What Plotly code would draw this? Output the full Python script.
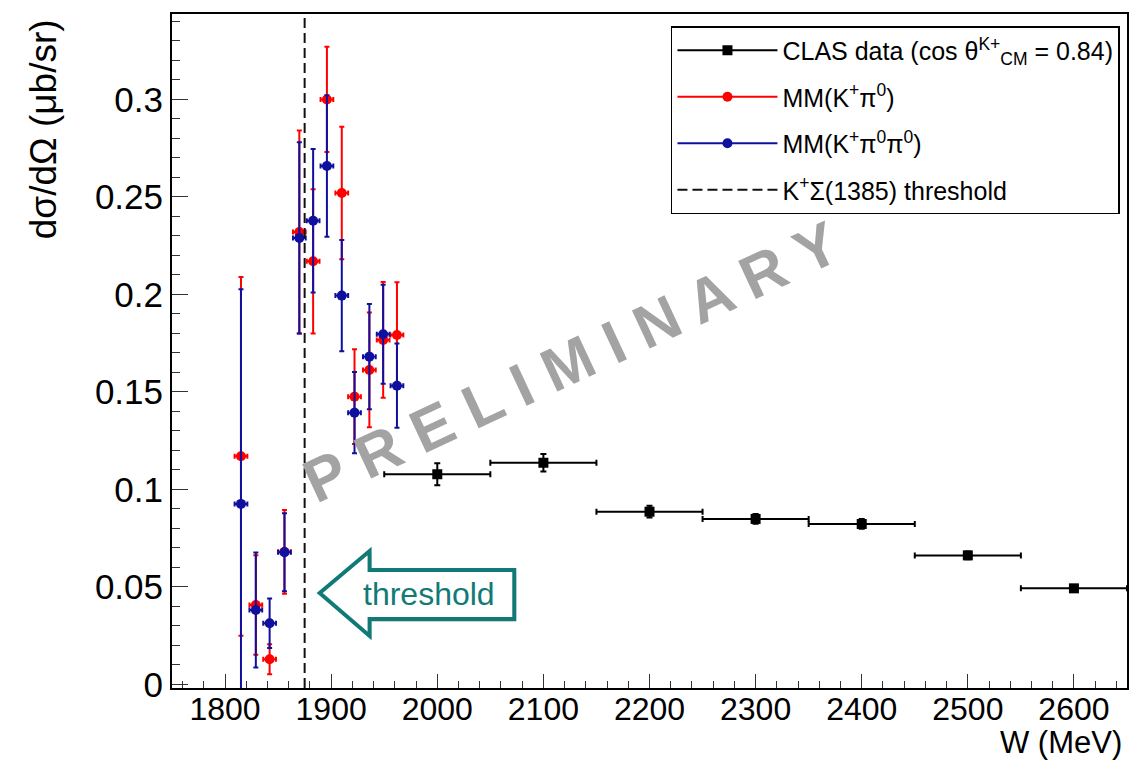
import plotly.graph_objects as go

# ---------------- data ----------------
# CLAS data (cos theta_CM^K+ = 0.84)
clas_w = [2000, 2100, 2200, 2300, 2400, 2500, 2600]
clas_xs = [0.1078, 0.1137, 0.0886, 0.0849, 0.0823, 0.0662, 0.0493]
clas_err = [0.0056, 0.0045, 0.0030, 0.0025, 0.0025, 0.0020, 0.0015]
clas_werr = [50, 50, 50, 50, 50, 50, 50]

# MM analyses (shared W bins)
mm_w = [1815, 1829, 1842, 1856, 1870, 1883, 1896, 1910, 1922, 1936, 1949, 1962]
mm_werr = [6] * 12

# MM(K+ pi0)
red_xs = [0.117, 0.0408, 0.0129, 0.068, 0.232, 0.217, 0.300, 0.252, 0.1476, 0.1613, 0.1767, 0.1792]
red_err = [0.092, 0.0255, 0.0077, 0.0215, 0.052, 0.037, 0.027, 0.034, 0.0243, 0.0294, 0.0297, 0.027]

# MM(K+ pi0 pi0)
blue_xs = [0.0926, 0.0382, 0.0314, 0.0678, 0.229, 0.2378, 0.2659, 0.1994, 0.1394, 0.1681, 0.1796, 0.1532]
blue_err = [0.110, 0.0295, 0.0127, 0.020, 0.049, 0.0368, 0.0363, 0.0285, 0.0208, 0.0270, 0.0254, 0.0216]

# K+ Sigma(1385) threshold
threshold_w = 1875

x_range = [1750, 2650]
y_range = [-0.0018, 0.3438]

# ---------------- layout geometry ----------------
W, H = 1131, 774
ML, MR, MT, MB = 172, 2, 14, 86
PW, PH = W - ML - MR, H - MT - MB


def px(x):
    return (x - ML) / PW


def py(y):
    return (H - MB - y) / PH


FONT = "Liberation Sans, Arial, Helvetica, sans-serif"
RED = "#ff0000"
BLUE = "#10109e"
TEAL = "#127a76"

fig = go.Figure()

# data traces
fig.add_trace(go.Scatter(
    x=mm_w, y=red_xs, mode="markers", showlegend=False,
    marker=dict(symbol="circle", size=10, color=RED),
    error_y=dict(type="data", array=red_err, color=RED, thickness=2, width=2.5),
    error_x=dict(type="data", array=mm_werr, color=RED, thickness=2, width=2.5),
))
fig.add_trace(go.Scatter(
    x=mm_w, y=blue_xs, mode="markers", showlegend=False,
    marker=dict(symbol="circle", size=10, color=BLUE),
    error_y=dict(type="data", array=blue_err, color=BLUE, thickness=2, width=2.5),
    error_x=dict(type="data", array=mm_werr, color=BLUE, thickness=2, width=2.5),
))
fig.add_trace(go.Scatter(
    x=clas_w, y=clas_xs, mode="markers", showlegend=False,
    marker=dict(symbol="square", size=10, color="black"),
    error_y=dict(type="data", array=clas_err, color="black", thickness=2, width=3),
    error_x=dict(type="data", array=clas_werr, color="black", thickness=2, width=3),
))

# threshold dashed line
fig.add_trace(go.Scatter(
    x=[threshold_w, threshold_w], y=y_range, mode="lines", showlegend=False,
    line=dict(color="#111111", width=2, dash="10px,5px"),
))

# legend entries
fig.add_trace(go.Scatter(
    x=[None], y=[None], mode="lines+markers", legendgroup="a",
    name="CLAS data (cos θ<sup>K+</sup><sub>CM</sub> = 0.84)",
    line=dict(color="black", width=2), marker=dict(symbol="square", size=10, color="black"),
))
fig.add_trace(go.Scatter(
    x=[None], y=[None], mode="lines+markers", legendgroup="b",
    name="MM(K<sup>+</sup>π<sup>0</sup>)",
    line=dict(color=RED, width=2), marker=dict(symbol="circle", size=10, color=RED),
))
fig.add_trace(go.Scatter(
    x=[None], y=[None], mode="lines+markers", legendgroup="c",
    name="MM(K<sup>+</sup>π<sup>0</sup>π<sup>0</sup>)",
    line=dict(color=BLUE, width=2), marker=dict(symbol="circle", size=10, color=BLUE),
))
fig.add_trace(go.Scatter(
    x=[None], y=[None], mode="lines", legendgroup="d",
    name="K<sup>+</sup>Σ(1385) threshold",
    line=dict(color="#111111", width=2, dash="10px,5px"),
))

# threshold arrow (decoration)
arrow_pts = [(320, 593), (370, 551), (370, 570), (515, 570), (515, 619), (370, 619), (370, 636)]


def path_from(pts, dx=0, dy=0):
    s = "M " + " L ".join(f"{px(x + dx):.5f},{py(y + dy):.5f}" for x, y in pts) + " Z"
    return s


shapes = [
    dict(type="path", xref="paper", yref="paper", path=path_from(arrow_pts, 2, 3),
         fillcolor="rgba(0,0,0,0.18)", line=dict(width=0), layer="above"),
    dict(type="path", xref="paper", yref="paper", path=path_from(arrow_pts),
         fillcolor="white", line=dict(color=TEAL, width=4), layer="above"),
]

annotations = [
    dict(text="threshold", x=px(430), y=py(594), xref="paper", yref="paper",
         showarrow=False, xanchor="center", yanchor="middle",
         font=dict(family=FONT, size=32, color=TEAL)),
    dict(text="<b>P R E L I M I N A R Y</b>", x=px(572), y=py(362), xref="paper", yref="paper",
         showarrow=False, xanchor="center", yanchor="middle", textangle=-25,
         font=dict(family=FONT, size=61, color="#a3a3a3")),
    dict(text="dσ/dΩ (μb/sr)", x=px(44), y=py(129), xref="paper", yref="paper",
         showarrow=False, xanchor="center", yanchor="middle", textangle=-90,
         font=dict(family=FONT, size=37, color="black")),
    dict(text="W (MeV)", x=px(1126), y=py(742), xref="paper", yref="paper",
         showarrow=False, xanchor="right", yanchor="middle",
         font=dict(family=FONT, size=31, color="black")),
]

fig.update_layout(
    width=W, height=H, autosize=False,
    margin=dict(l=ML, r=MR, t=MT, b=MB, pad=0),
    paper_bgcolor="white", plot_bgcolor="white",
    font=dict(family=FONT, color="black"),
    shapes=shapes, annotations=annotations,
    legend=dict(
        x=px(672), y=py(26), xanchor="left", yanchor="top",
        bgcolor="white", bordercolor="black", borderwidth=1.5,
        font=dict(family=FONT, size=25, color="black"),
        tracegroupgap=11, itemwidth=100, traceorder="grouped",
    ),
    xaxis=dict(
        range=x_range, showgrid=False, zeroline=False,
        showline=True, linecolor="black", linewidth=2, mirror=True,
        ticks="inside", ticklen=14, tickwidth=1, tickcolor="#333333",
        tick0=1800, dtick=100, ticklabelstandoff=-8,
        minor=dict(ticks="inside", ticklen=7, dtick=20, tickcolor="#333333", tickwidth=1),
        tickfont=dict(family=FONT, size=32, color="black"),
    ),
    yaxis=dict(
        range=y_range, showgrid=False, zeroline=False,
        showline=True, linecolor="black", linewidth=2, mirror=True,
        ticks="inside", ticklen=16, tickwidth=1, tickcolor="#333333",
        tick0=0, dtick=0.05,
        minor=dict(ticks="inside", ticklen=8, dtick=0.01, tickcolor="#333333", tickwidth=1),
        tickfont=dict(family=FONT, size=35, color="black"),
    ),
)

fig.write_html("out.html")
